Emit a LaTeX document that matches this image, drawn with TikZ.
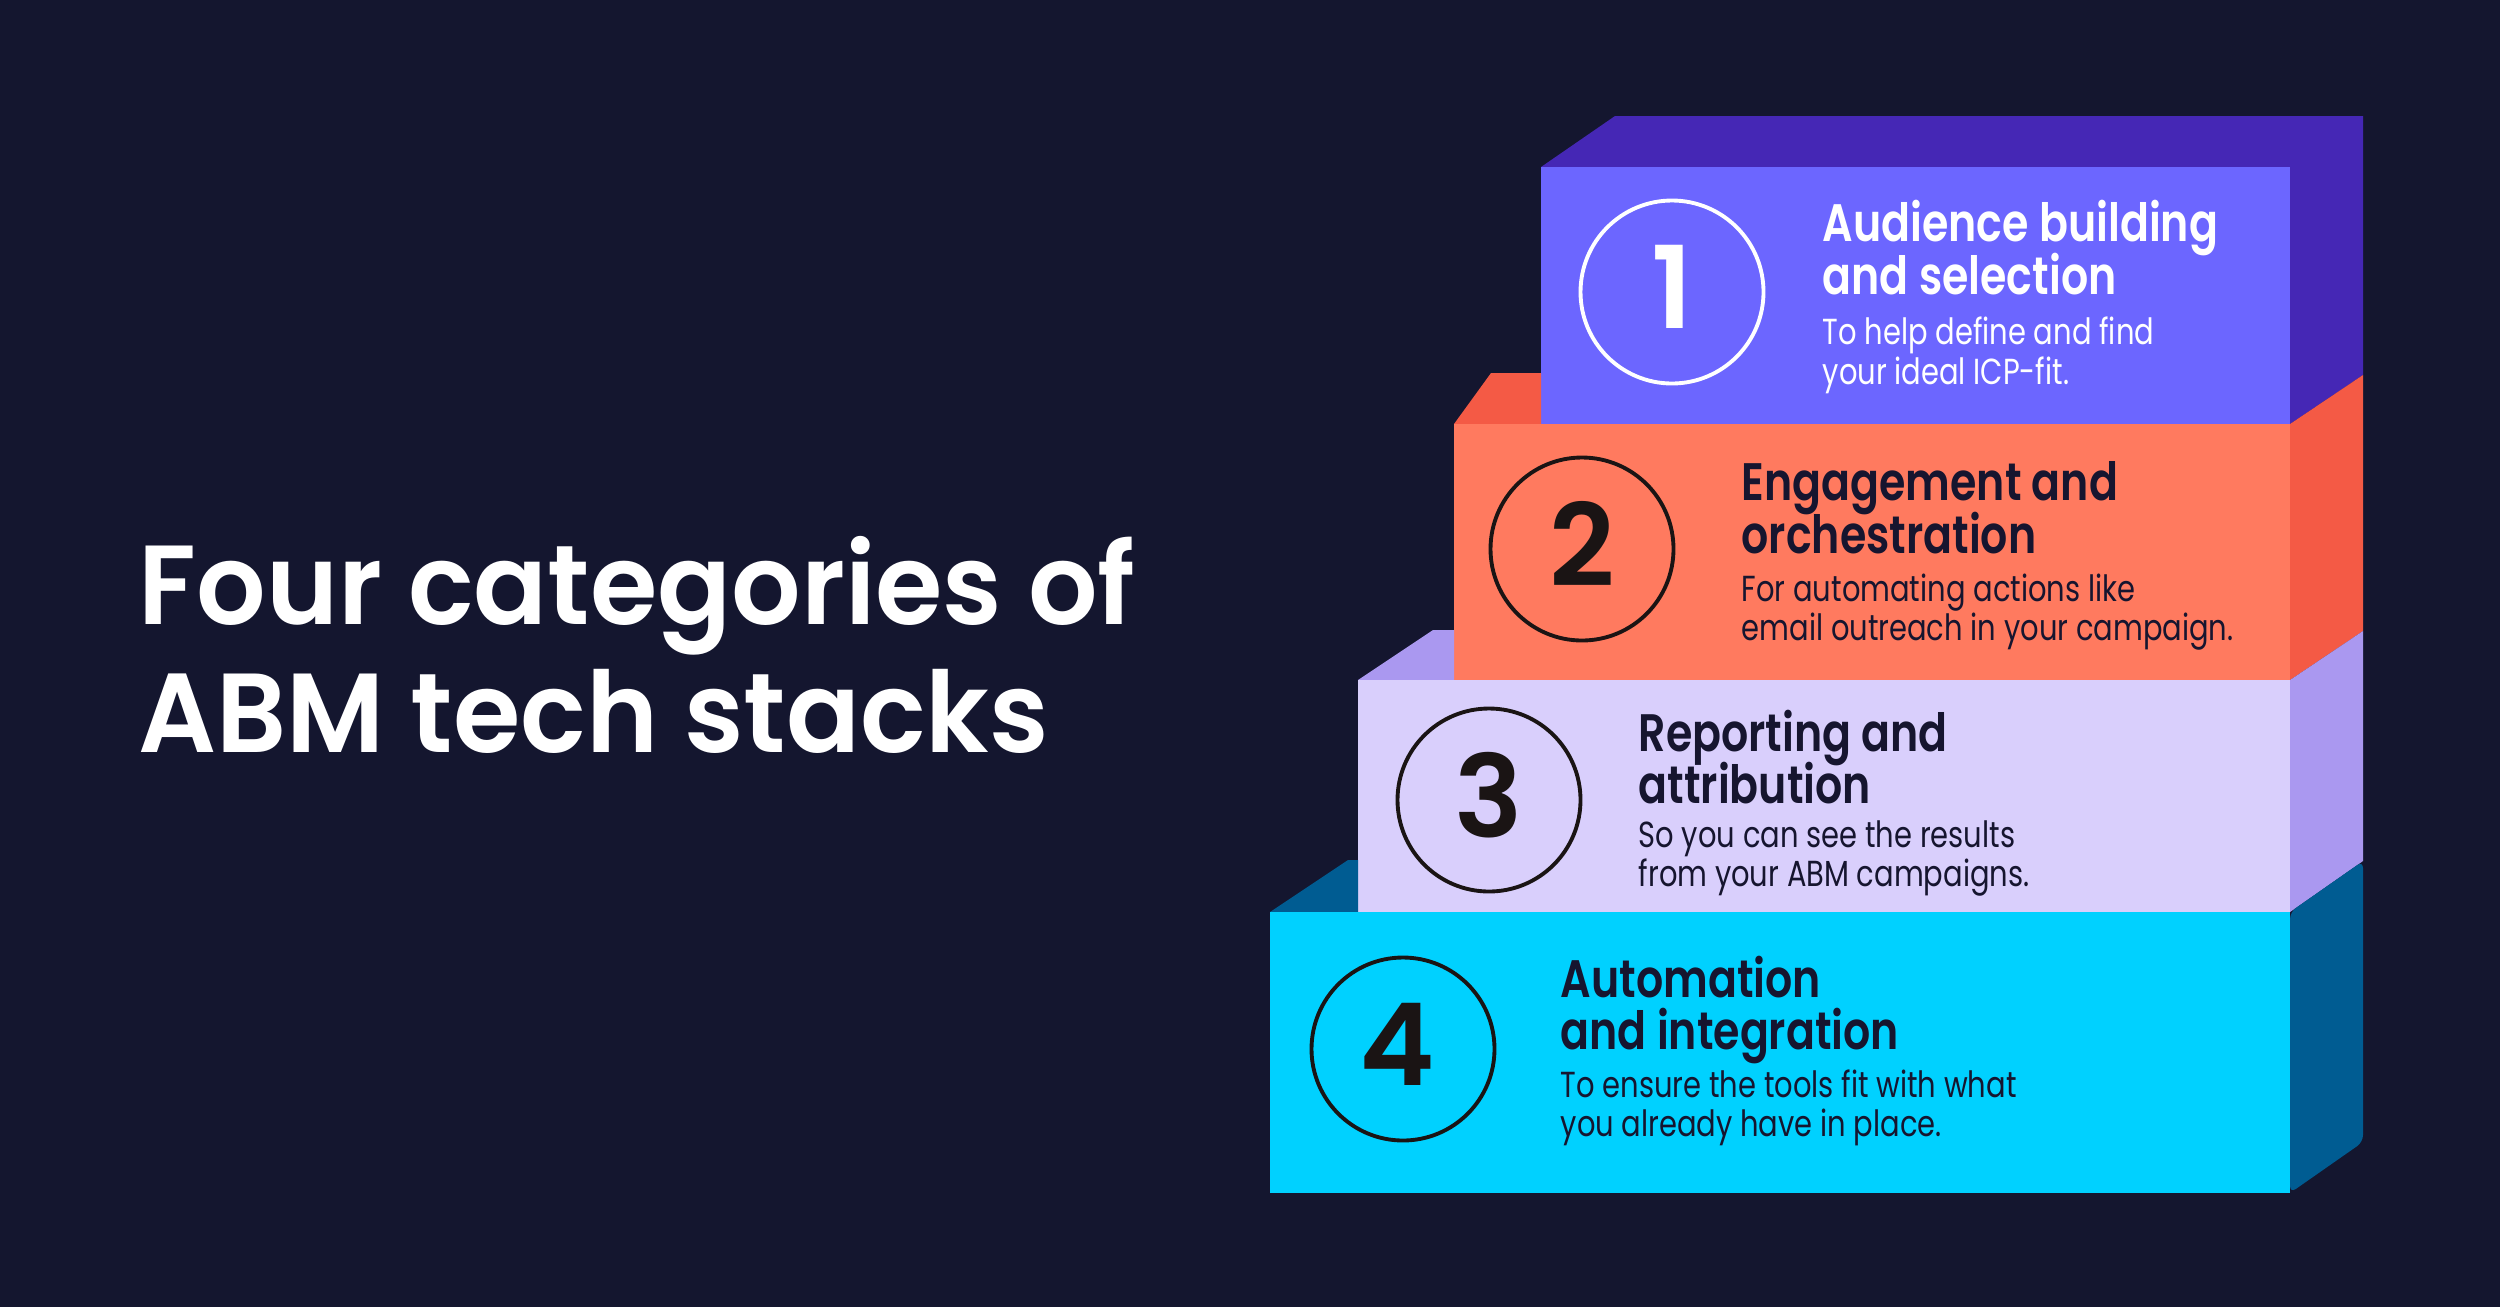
\documentclass[tikz,border=0pt]{standalone}
\usepackage{fontspec}
\usepackage{xcolor}
\setmainfont[FakeStretch=0.8]{Poppins}
\newfontfamily\headfont[FakeStretch=0.81]{Poppins SemiBold}
\newfontfamily\titlefont[FakeStretch=0.97]{Poppins SemiBold}
\newfontfamily\digitfont{Poppins SemiBold}
\newcommand{\tightlines}{\setlength{\lineskiplimit}{-20pt}}

\definecolor{bgnavy}{HTML}{14162F}
\definecolor{inknavy}{HTML}{16152F}
\definecolor{inkdigit}{HTML}{1A1414}
\definecolor{violetfront}{HTML}{6C66FF}
\definecolor{violetback}{HTML}{4527B5}
\definecolor{coralfront}{HTML}{FF7A5F}
\definecolor{coralback}{HTML}{F45A45}
\definecolor{lilacfront}{HTML}{D9CFFC}
\definecolor{lilacback}{HTML}{AA98F0}
\definecolor{cyanfront}{HTML}{00D1FF}
\definecolor{cyanback}{HTML}{005C92}

\tikzset{
  titletext/.style={anchor=base west, inner sep=0pt, align=left, text=white,
    font=\titlefont\fontsize{32}{36.2}\selectfont\tightlines},
  headtext/.style={anchor=base west, inner sep=0pt, align=left,
    font=\headfont\fontsize{15}{14.8}\selectfont\tightlines},
  bodytext/.style={anchor=base west, inner sep=0pt, align=left,
    font=\fontsize{10.3}{11.1}\selectfont\tightlines},
  numring/.style={circle, draw, line width=1.1pt, minimum size=1.83cm, inner sep=0pt,
    font=\digitfont\fontsize{32.5}{32.5}\selectfont},
}

\begin{document}
\begin{tikzpicture}[y=-1cm]
    \useasboundingbox (0,0) rectangle (25,13.07);
    \fill[bgnavy] (0,0) rectangle (25,13.07);
    % top step
    \fill[violetback] (15.41,1.67) -- (16.15,1.16) -- (23.63,1.16) -- (23.63,3.75) -- (22.9,4.24) -- (22.9,1.67) -- cycle;
    \fill[violetfront] (15.41,1.67) rectangle (22.9,4.24);
    % second step
    \fill[coralback] (14.54,4.24) -- (14.91,3.73) -- (15.41,3.73) -- (15.41,4.24) -- cycle;
    \fill[coralback] (22.9,4.24) -- (23.63,3.75) -- (23.63,6.31) -- (22.9,6.8) -- cycle;
    \fill[coralfront] (14.54,4.24) rectangle (22.9,6.8);
    % third step
    \fill[lilacback] (13.58,6.8) -- (14.33,6.3) -- (14.54,6.3) -- (14.54,6.8) -- cycle;
    \fill[lilacback] (22.9,6.8) -- (23.63,6.31) -- (23.63,8.61) -- (22.9,9.12) -- cycle;
    \fill[lilacfront] (13.58,6.8) rectangle (22.9,9.12);
    % bottom step
    \fill[cyanback] (12.7,9.12) -- (13.48,8.6) -- (13.58,8.6) -- (13.58,9.12) -- cycle;
    \fill[cyanback, rounded corners=2pt] (22.9,9.12) -- (23.63,8.61) -- (23.63,11.42) -- (22.9,11.93) -- cycle;
    \fill[cyanfront] (12.7,9.12) rectangle (22.9,11.93);

    \node[titletext] (title) at (1.38,7.52) {Four categories of\\ABM tech stacks};

    \node[numring, draw=white, text=white] (one) at (16.72,2.92) {\raisebox{0.1cm}{1}};
    \node[headtext, text=white] (audience) at (18.22,2.94) {Audience building\\and selection};
    \node[bodytext, text=white] (define) at (18.22,3.84) {To help define and find\\your ideal ICP-fit.};

    \node[numring, draw=inkdigit, text=inkdigit] (two) at (15.82,5.49) {\raisebox{0.1cm}{2}};
    \node[headtext, text=inknavy] (engage) at (17.41,5.53) {Engagement and\\orchestration};
    \node[bodytext, text=inknavy] (automate) at (17.41,6.4) {For automating actions like\\email outreach in your campaign.};

    \node[numring, draw=inkdigit, text=inkdigit] (three) at (14.89,8) {\raisebox{0.1cm}{3}};
    \node[headtext, text=inknavy] (report) at (16.38,8.03) {Reporting and\\attribution};
    \node[bodytext, text=inknavy] (results) at (16.38,8.86) {So you can see the results\\from your ABM campaigns.};

    \node[numring, draw=inkdigit, text=inkdigit] (four) at (14.03,10.49) {\kern-0.12cm\raisebox{0.1cm}{4}};
    \node[headtext, text=inknavy] (integrate) at (15.6,10.49) {Automation\\and integration};
    \node[bodytext, text=inknavy] (tools) at (15.6,11.36) {To ensure the tools fit with what\\you already have in place.};
\end{tikzpicture}
\end{document}
